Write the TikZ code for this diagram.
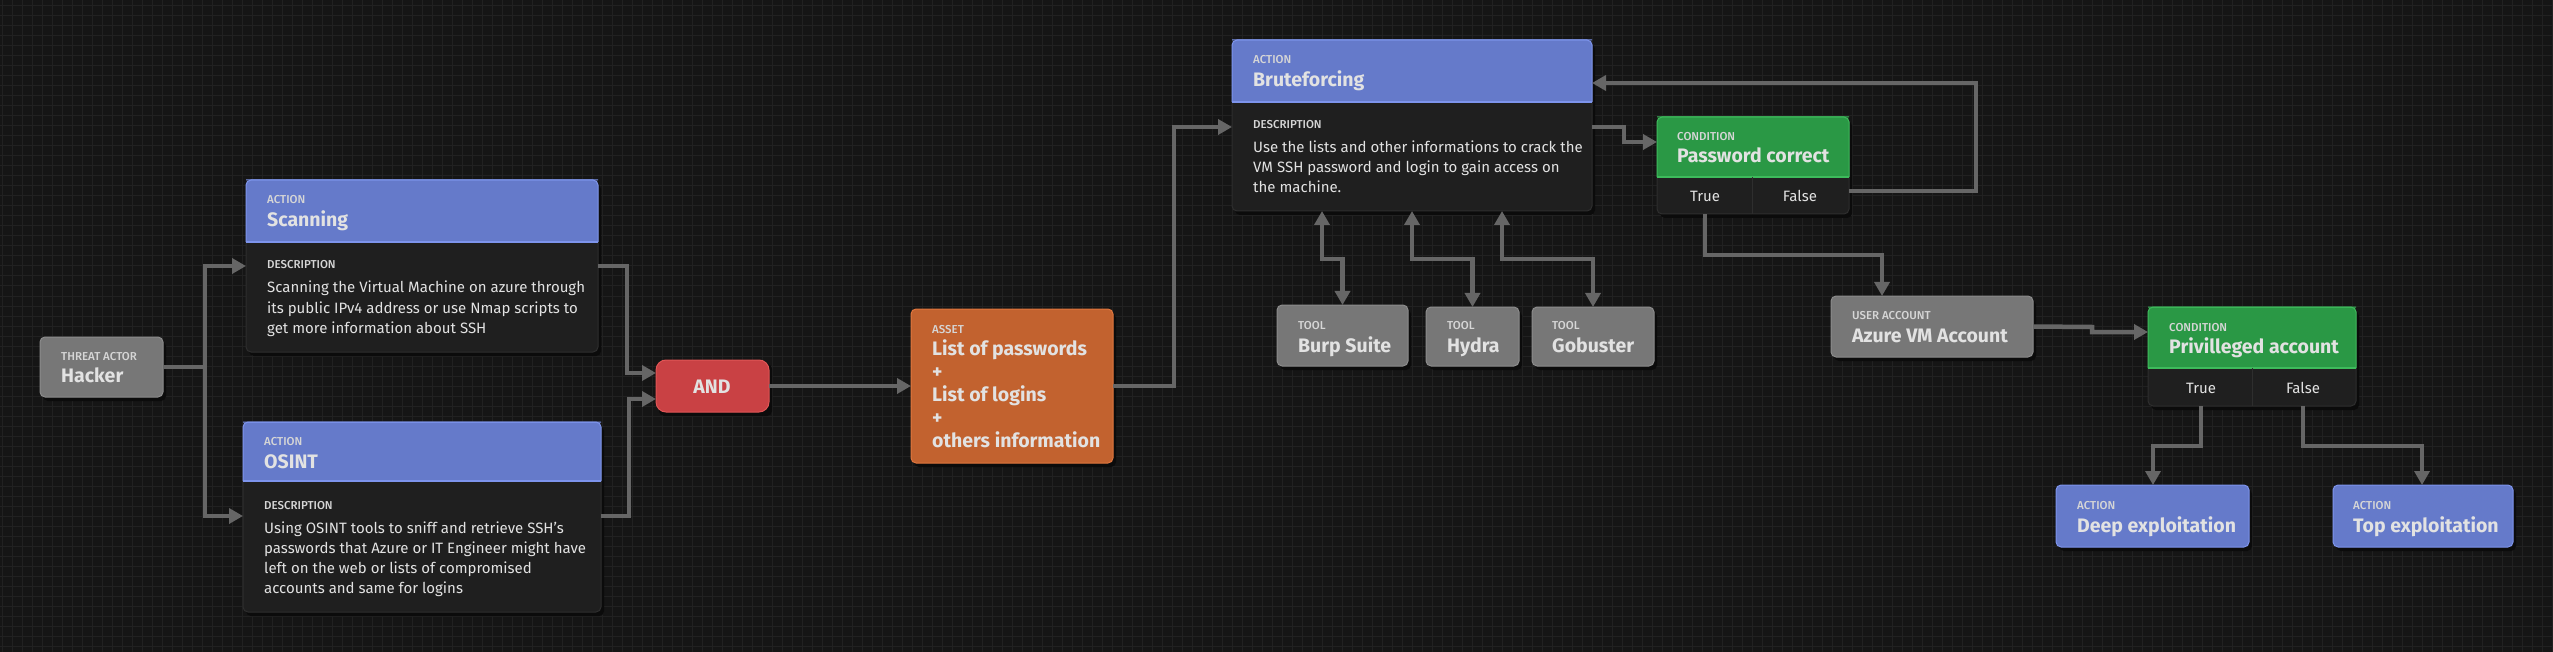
\documentclass[tikz,border=0pt]{standalone}
\usepackage{fontspec}
\setmainfont{Fira Sans}
\newfontfamily\lblfont{Fira Sans Medium}
\usetikzlibrary{arrows.meta}
\definecolor{bgc}{HTML}{151515}
\definecolor{gridc}{HTML}{212121}
\definecolor{darkc}{HTML}{1F1F1F}
\definecolor{darkb}{HTML}{2E2E2E}
\definecolor{bluec}{HTML}{657ACA}
\definecolor{blueb}{HTML}{7D94EC}
\definecolor{greenc}{HTML}{2A9845}
\definecolor{greenb}{HTML}{3DBB5B}
\definecolor{grayc}{HTML}{777777}
\definecolor{grayb}{HTML}{8C8C8C}
\definecolor{orangec}{HTML}{C2622F}
\definecolor{orangeb}{HTML}{E0763E}
\definecolor{redc}{HTML}{C94144}
\definecolor{redb}{HTML}{E05656}
\definecolor{connc}{HTML}{666666}
\definecolor{txtc}{HTML}{E2E2E2}
\definecolor{lblc}{HTML}{D6D6D6}
\definecolor{shc}{HTML}{0B0B0B}
\tikzset{
  gridline/.style={draw=gridc, line width=1pt},
  boxbase/.style={rounded corners=5pt, line width=1pt, outer sep=0pt, inner sep=0pt, anchor=north west},
  darkbox/.style={boxbase, draw=darkb, fill=darkc},
  graybox/.style={boxbase, draw=grayb, fill=grayc},
  bluebox/.style={boxbase, draw=blueb, fill=bluec},
  orangebox/.style={boxbase, draw=orangeb, fill=orangec},
  redbox/.style={boxbase, draw=redb, fill=redc, rounded corners=10pt},
  shadowbox/.style={fill=shc, rounded corners=5pt},
  lbl/.style={anchor=base west, inner sep=0pt, text=lblc, font=\lblfont\fontsize{11.5}{13}\selectfont},
  ttl/.style={anchor=base west, inner sep=0pt, text=txtc, font=\fontsize{19.5}{22}\selectfont\bfseries},
  desc/.style={anchor=base west, inner sep=0pt, text=txtc, font=\fontsize{15}{18}\selectfont},
  tf/.style={anchor=base, inner sep=0pt, text=txtc, font=\fontsize{15}{17}\selectfont},
  conn/.style={draw=connc, line width=4.5pt, -{Triangle[length=14pt,width=15pt]}},
  dconn/.style={draw=connc, line width=4.5pt, {Triangle[length=14pt,width=15pt]}-{Triangle[length=14pt,width=15pt]}},
}
% header card: name, x, y, w, h, header height, header colour, header line colour
\newcommand\mkcard[8]{%
  \fill[shadowbox] (#2+3,#3+4) rectangle ++(#4,#5);
  \node[darkbox, minimum width=#4pt, minimum height=#5pt] (#1) at (#2,#3) {};
  \begin{scope}
    \clip[rounded corners=5pt] (#1.north west) rectangle (#1.south east);
    \fill[#7] (#1.north west) rectangle ([yshift=-#6pt]#1.north east);
    \draw[#8, line width=1.5pt] ([yshift=-#6pt]#1.north west) -- ([yshift=-#6pt]#1.north east);
  \end{scope}
  \draw[rounded corners=5pt, line width=1pt, draw=#8] (#1.north west) -- (#1.north east) -- ([yshift=-#6pt]#1.north east);
  \draw[rounded corners=5pt, line width=1pt, draw=#8] (#1.north east) -- (#1.north west) -- ([yshift=-#6pt]#1.north west);
}
% simple box: name, x, y, w, h, style
\newcommand\mkbox[6]{%
  \fill[shadowbox] (#2+3,#3+4) rectangle ++(#4,#5);
  \node[#6, minimum width=#4pt, minimum height=#5pt] (#1) at (#2,#3) {};
}
\begin{document}
\begin{tikzpicture}[x=1pt,y=-1pt]
\useasboundingbox (0,0) rectangle (2553,652);
\fill[bgc] (0,0) rectangle (2553,652);
\foreach \gx in {2,12,...,2552} {\draw[gridline] (\gx,0) -- (\gx,652);}
\foreach \gy in {6,16,...,646} {\draw[gridline] (0,\gy) -- (2553,\gy);}

% ---------- boxes ----------
\mkbox{hacker}{40}{337}{123}{60}{graybox}
\mkcard{scan}{246}{180}{352}{172}{62}{bluec}{blueb}
\mkcard{osint}{243}{422}{358}{190}{59}{bluec}{blueb}
\mkbox{and}{656}{360}{113}{52}{redbox}
\mkbox{asset}{911}{309}{202}{154}{orangebox}
\mkcard{brute}{1232}{40}{360}{171}{62}{bluec}{blueb}
\mkcard{pc}{1657}{117}{192}{97}{60}{greenc}{greenb}
\mkbox{burp}{1277}{305}{131}{61}{graybox}
\mkbox{hydra}{1426}{307}{93}{59}{graybox}
\mkbox{gobuster}{1532}{307}{122}{59}{graybox}
\mkbox{azure}{1831}{296}{202}{61}{graybox}
\mkcard{pa}{2148}{307}{208}{99}{61}{greenc}{greenb}
\mkbox{deep}{2056}{485}{193}{62}{bluebox}
\mkbox{top}{2333}{485}{180}{62}{bluebox}

% True / False dividers
\draw[darkb, line width=1pt] ([yshift=-60pt]pc.north -| 1752,0) -- (pc.south -| 1752,0);
\draw[darkb, line width=1pt] ([yshift=-61pt]pa.north -| 2252,0) -- (pa.south -| 2252,0);

% ---------- texts ----------
\node[lbl] (hackerL) at (61,360) {THREAT ACTOR};
\node[ttl] (hackerT) at (61,382) {Hacker};

\node[lbl] (scanL) at (267,204) {ACTION};
\node[ttl] (scanT) at (267,227) {Scanning};
\node[lbl] (scanD) at (267,269) {DESCRIPTION};
\node[desc] (scan1) at (267,293) {Scanning the Virtual Machine on azure through};
\node[desc] (scan2) at (267,313) {its public IPv4 address or use Nmap scripts to};
\node[desc] (scan3) at (267,333) {get more information about SSH};

\node[lbl] (osintL) at (264,445) {ACTION};
\node[ttl] (osintT) at (264,468) {OSINT};
\node[lbl] (osintD) at (264,509) {DESCRIPTION};
\node[desc] (osint1) at (264,533) {Using OSINT tools to sniff and retrieve SSH's};
\node[desc] (osint2) at (264,553) {passwords that Azure or IT Engineer might have};
\node[desc] (osint3) at (264,573) {left on the web or lists of compromised};
\node[desc] (osint4) at (264,593) {accounts and same for logins};

\node[ttl, anchor=base] (andT) at (712,393) {AND};

\node[lbl] (assetL) at (932,333) {ASSET};
\node[ttl] (asset1) at (932,355) {List of passwords};
\node[ttl] (asset2) at (932,378) {+};
\node[ttl] (asset3) at (932,401) {List of logins};
\node[ttl] (asset4) at (932,424) {+};
\node[ttl] (asset5) at (932,447) {others information};

\node[lbl] (bruteL) at (1253,64) {ACTION};
\node[ttl] (bruteT) at (1253,87) {Bruteforcing};
\node[lbl] (bruteD) at (1253,129) {DESCRIPTION};
\node[desc] (brute1) at (1253,153) {Use the lists and other informations to crack the};
\node[desc] (brute2) at (1253,173) {VM SSH password and login to gain access on};
\node[desc] (brute3) at (1253,193) {the machine.};

\node[lbl] (pcL) at (1677,141) {CONDITION};
\node[ttl] (pcT) at (1677,163) {Password correct};
\node[tf] (pcTrue) at (1705,202) {True};
\node[tf] (pcFalse) at (1800,202) {False};

\node[lbl] (burpL) at (1298,329) {TOOL};
\node[ttl] (burpT) at (1298,352) {Burp Suite};
\node[lbl] (hydraL) at (1447,329) {TOOL};
\node[ttl] (hydraT) at (1447,352) {Hydra};
\node[lbl] (gobL) at (1552,329) {TOOL};
\node[ttl] (gobT) at (1552,352) {Gobuster};

\node[lbl] (azureL) at (1852,319) {USER ACCOUNT};
\node[ttl] (azureT) at (1852,342) {Azure VM Account};

\node[lbl] (paL) at (2169,331) {CONDITION};
\node[ttl] (paT) at (2169,353) {Privilleged account};
\node[tf] (paTrue) at (2201,393) {True};
\node[tf] (paFalse) at (2303,393) {False};

\node[lbl] (deepL) at (2077,509) {ACTION};
\node[ttl] (deepT) at (2077,532) {Deep exploitation};
\node[lbl] (topL) at (2353,509) {ACTION};
\node[ttl] (topT) at (2353,532) {Top exploitation};

% ---------- connectors ----------
\draw[conn] (hacker.east) -- (205,367) |- (scan.west |- 0,266);
\draw[conn] (hacker.east) -- (205,367) |- (osint.west |- 0,516);
\draw[conn] (scan.east |- 0,266) -- (627,266) |- (and.west |- 0,373);
\draw[conn] (osint.east |- 0,516) -- (629,516) |- (and.west |- 0,399);
\draw[conn] (and.east) -- (asset.west);
\draw[conn] (asset.east) -- (1174,386) |- (brute.west |- 0,127);
\draw[conn] (brute.east |- 0,127) -- (1624,127) |- (pc.west |- 0,142);
\draw[conn] (pc.east |- 0,191) -- (1976,191) |- (brute.east |- 0,83);
\draw[conn] (pc.south -| 1705,0) -- (1705,255) -| (azure.north -| 1882,0);
\draw[dconn] (brute.south -| 1322,0) -- (1322,259) -| (burp.north);
\draw[dconn] (brute.south -| 1412,0) -- (1412,259) -| (hydra.north);
\draw[dconn] (brute.south -| 1502,0) -- (1502,259) -| (gobuster.north);
\draw[conn] (azure.east) -- (2092,327) |- (pa.west |- 0,332);
\draw[conn] (pa.south -| 2201,0) -- (2201,446) -| (deep.north -| 2153,0);
\draw[conn] (pa.south -| 2303,0) -- (2303,446) -| (top.north -| 2422,0);
\end{tikzpicture}
\end{document}
